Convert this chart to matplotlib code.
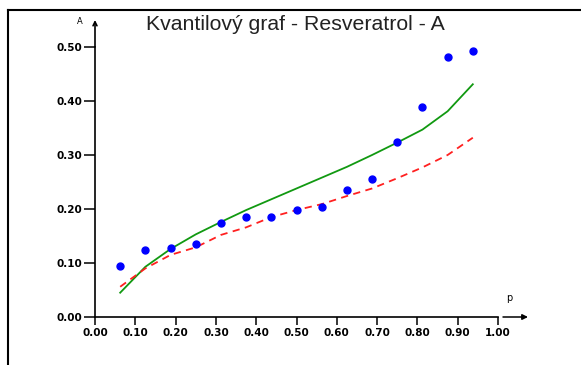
import numpy as np
import matplotlib
matplotlib.use("Agg")
import matplotlib.pyplot as plt

# quantile plot data
p = [0.0625, 0.125, 0.1875, 0.25, 0.3125, 0.375, 0.4375, 0.5,
     0.5625, 0.625, 0.6875, 0.75, 0.8125, 0.875, 0.9375]
observed = [0.094, 0.125, 0.128, 0.135, 0.175, 0.185, 0.185, 0.198,
            0.204, 0.235, 0.256, 0.325, 0.389, 0.482, 0.493]
green_fit = [0.045, 0.093, 0.126, 0.153, 0.176, 0.198, 0.218, 0.238,
             0.258, 0.278, 0.300, 0.323, 0.347, 0.381, 0.431]
red_fit = [0.056, 0.090, 0.115, 0.129, 0.152, 0.166, 0.185, 0.198,
           0.209, 0.224, 0.238, 0.257, 0.277, 0.300, 0.332]

x_ticks = np.arange(0, 1.01, 0.1)
y_ticks = np.arange(0, 0.51, 0.1)

W, H = 581, 365
fig = plt.figure(figsize=(W / 100, H / 100), dpi=100)
fig.patch.set_facecolor("white")

# outer frame (left and top lines only)
fig.add_artist(plt.Line2D([8 / W, 8 / W], [0, 1 - 10 / H], color="black", lw=1.5))
fig.add_artist(plt.Line2D([8 / W, 1], [1 - 10 / H, 1 - 10 / H], color="black", lw=1.5))

ax = fig.add_axes([95 / W, 48 / H, 403 / W, 270 / H])
ax.set_xlim(0, 1)
ax.set_ylim(0, 0.5)
ax.patch.set_alpha(0)

ax.plot(p, green_fit, color="#119911", lw=1.3)
ax.plot(p, red_fit, color="#ff2020", lw=1.3, ls=(0, (4, 3)))
ax.plot(p, observed, "o", color="blue", ms=5, mec="blue", zorder=5)

for s in ["top", "right"]:
    ax.spines[s].set_visible(False)
for s in ["left", "bottom"]:
    ax.spines[s].set_linewidth(1.2)

tick_font = dict(family="DejaVu Sans", weight="bold", size=7.5)
ax.set_xticks(x_ticks)
ax.set_xticklabels([f"{v:.2f}" for v in x_ticks], **tick_font)
ax.set_yticks(y_ticks)
ax.set_yticklabels([f"{v:.2f}" for v in y_ticks], **tick_font)
ax.tick_params(axis="both", direction="out", length=6, width=1.1, colors="black", pad=2)
ax.tick_params(axis="y", length=8, pad=1)

# axis arrows
ax.annotate("", xy=(0, 1 + 27 / 270), xytext=(0, 1), xycoords="axes fraction",
            arrowprops=dict(arrowstyle="->", lw=1.2, color="black", shrinkA=0, shrinkB=0,
                            mutation_scale=7))
ax.annotate("", xy=(1 + 30 / 403, 0), xytext=(1 + 5 / 403, 0), xycoords="axes fraction",
            arrowprops=dict(arrowstyle="-|>", lw=1.1, color="black", shrinkA=0, shrinkB=0,
                            mutation_scale=8))
ax.text(-15 / 403, 1 + 25 / 270, "A", transform=ax.transAxes, fontsize=6,
        ha="center", va="center")
ax.text(1 + 11 / 403, 19 / 270, "p", transform=ax.transAxes, fontsize=7,
        ha="center", va="center")

fig.text(295 / W, 1 - 15 / H, "Kvantilový graf - Resveratrol - A", ha="center", va="top",
         fontsize=15.3, family="Liberation Sans", color="#222222")

fig.savefig("out.png", dpi=100)
